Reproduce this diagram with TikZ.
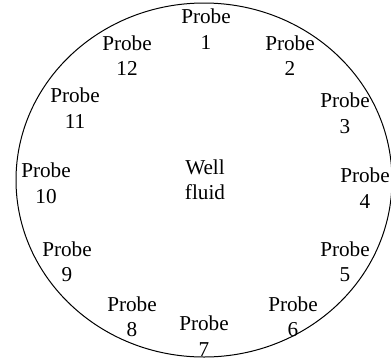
\documentclass[tikz,border=0pt]{standalone}
\usepackage{fontspec}
\setmainfont{Liberation Serif}
\usepackage{tikz}
\usetikzlibrary{positioning}

\begin{document}
\begin{tikzpicture}[x=1pt, y=-1pt,
        probe/.style={align=center, inner sep=0pt, font=\fontsize{21.2}{25.5}\selectfont},
        wall/.style={draw, line width=1pt}]
        \useasboundingbox (0,0) rectangle (391,360);

        \draw[wall] (204,180) ellipse [x radius=188, y radius=177];

        \node (well) [probe] at (205,179.5) {Well\\fluid};

        \node (p1) [probe] at (206,29) {Probe\\1};
        \node (p2) [probe] at (290,55.5) {Probe\\2};
        \node (p3) [probe] at (345,113) {Probe\\3};
        \node (p4) [probe] at (365,188) {Probe\\4};
        \node (p5) [probe] at (345,261.5) {Probe\\5};
        \node (p6) [probe] at (293,316.5) {Probe\\6};
        \node (p7) [probe] at (204,336) {Probe\\7};
        \node (p8) [probe] at (132,316.5) {Probe\\8};
        \node (p9) [probe] at (67,261.5) {Probe\\9};
        \node (p10) [probe] at (46,183) {Probe\\10};
        \node (p11) [probe] at (75,108) {Probe\\11};
        \node (p12) [probe] at (127,55.5) {Probe\\12};
    \end{tikzpicture}
\end{document}
